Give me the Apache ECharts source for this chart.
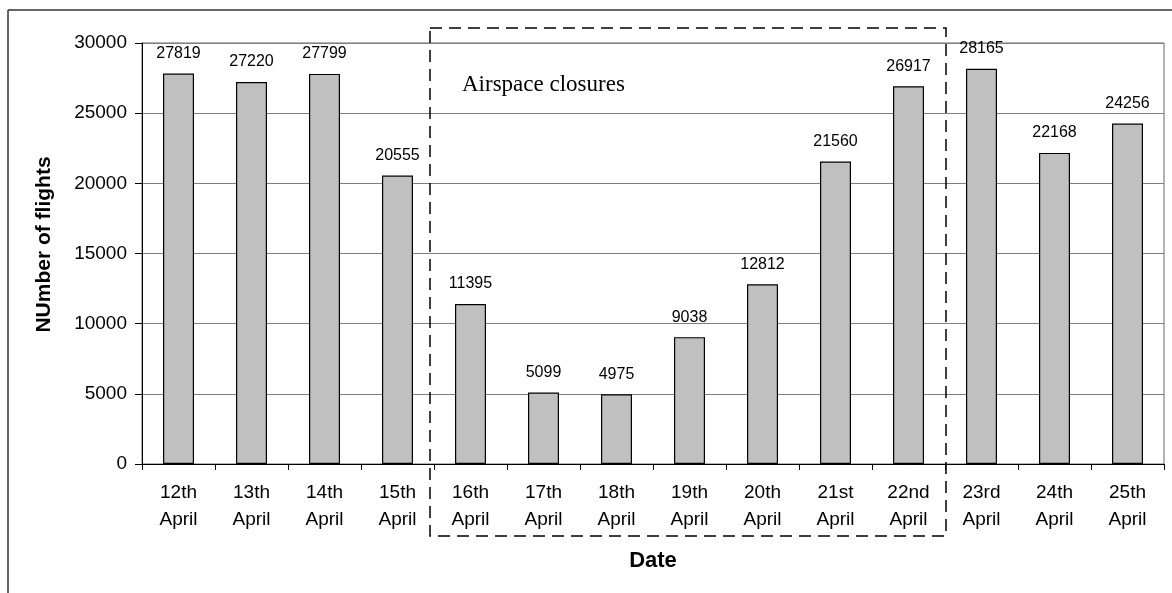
<!DOCTYPE html>
<html>
<head>
<meta charset="utf-8">
<script src="https://cdn.jsdelivr.net/npm/echarts@6/dist/echarts.min.js"></script>
<style>
html, body { margin: 0; padding: 0; background: #fff; }
#chart { width: 1172px; height: 593px; }
</style>
</head>
<body>
<div id="chart"></div>
<script>
// days shown on the x axis
var days = ['12th', '13th', '14th', '15th', '16th', '17th', '18th',
            '19th', '20th', '21st', '22nd', '23rd', '24th', '25th'];
var month = 'April';
// flights per day
var flights = [27819, 27220, 27799, 20555, 11395, 5099, 4975,
               9038, 12812, 21560, 26917, 28165, 22168, 24256];
var yTicks = [0, 5000, 10000, 15000, 20000, 25000, 30000];

var categories = days.map(function (d) { return d + '\n' + month; });

var myChart = echarts.init(document.getElementById('chart'));
var option = {
  animation: false,
  textStyle: { fontFamily: 'Liberation Sans, Arial, sans-serif' },
  grid: {
    left: 142, right: 8, top: 43, bottom: 129,
    show: true, borderColor: '#666', borderWidth: 1
  },
  xAxis: {
    type: 'category',
    data: categories,
    boundaryGap: true,
    name: 'Date',
    nameLocation: 'middle',
    nameGap: 86,
    nameTextStyle: { fontSize: 22, fontWeight: 'bold', color: '#000' },
    axisLine: { lineStyle: { color: '#000', width: 1 } },
    axisTick: { show: true, length: 6, lineStyle: { color: '#000' } },
    axisLabel: { color: '#000', fontSize: 19, lineHeight: 27, margin: 15, interval: 0 }
  },
  yAxis: {
    type: 'value',
    min: yTicks[0],
    max: yTicks[yTicks.length - 1],
    interval: 5000,
    name: 'NUmber of flights',
    nameLocation: 'middle',
    nameGap: 87,
    nameTextStyle: { fontSize: 21, fontWeight: 'bold', color: '#000', padding: [0, 0, 0, 18] },
    axisLine: { show: true, lineStyle: { color: '#000', width: 1 } },
    axisTick: { show: true, length: 7, lineStyle: { color: '#000' } },
    axisLabel: { color: '#000', fontSize: 19, margin: 15,
                 formatter: function (v) { return String(v); } },
    splitLine: { show: true, lineStyle: { color: '#808080', width: 1 } }
  },
  series: [{
    type: 'bar',
    data: flights,
    barWidth: 31,
    itemStyle: { color: '#c0c0c0', borderColor: '#000', borderWidth: 1.2 },
    label: { show: true, position: 'top', distance: 12, color: '#000', fontSize: 16 }
  }],
  graphic: [
    // outer frame (top and left edges)
    { type: 'line', shape: { x1: 8, y1: 10, x2: 1172, y2: 10 },
      style: { stroke: '#333', lineWidth: 1.5 } },
    { type: 'line', shape: { x1: 8, y1: 10, x2: 8, y2: 593 },
      style: { stroke: '#333', lineWidth: 1.5 } },
    // airspace closure box
    { type: 'rect', shape: { x: 430, y: 28, width: 516, height: 508 },
      style: { fill: 'none', stroke: '#000', lineWidth: 1.5, lineDash: [12, 7] }, z: 10 },
    { type: 'text', left: 462, top: 73,
      style: { text: 'Airspace closures', fill: '#000', fontSize: 23,
               fontFamily: 'Liberation Serif, Times New Roman, serif' }, z: 10 }
  ]
};
myChart.setOption(option, true);
</script>
</body>
</html>
